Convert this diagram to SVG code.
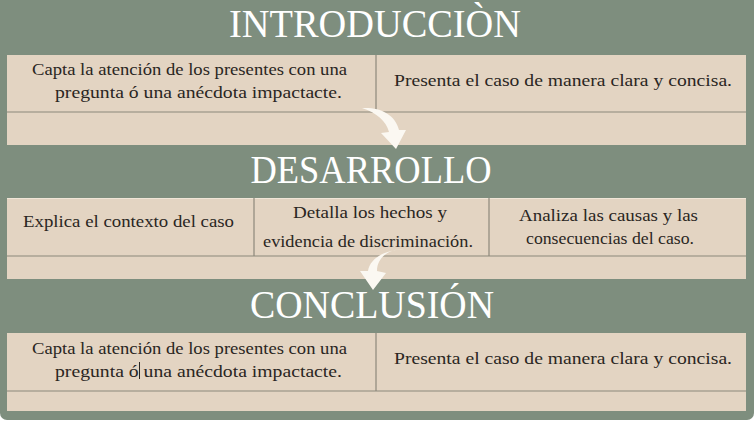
<svg xmlns="http://www.w3.org/2000/svg" width="754" height="421" viewBox="0 0 754 421">
<style>
.title{font-family:"Liberation Serif","DejaVu Serif",serif;fill:#ffffff;font-size:39px;text-anchor:middle}
.txt{font-family:"Liberation Serif","DejaVu Serif",serif;fill:#2a2622;font-size:17.5px}
.box{fill:#e3d4c2}
.div{stroke:#8c877b;stroke-width:1.2;fill:none}
.arrow{fill:#fbf8f2}
</style>
<rect x="0" y="0" width="754" height="421" fill="#ffffff"/>
<rect x="0" y="-10" width="754" height="430" rx="7" fill="#7e8e7e"/>

<g id="introduccion">
<text class="title" x="375" y="37" textLength="292" lengthAdjust="spacingAndGlyphs">INTRODUCCIÒN</text>
<rect class="box" x="7" y="55" width="739" height="90"/>
<line class="div" x1="7" y1="112" x2="746" y2="112"/>
<line class="div" x1="376" y1="55" x2="376" y2="112"/>
<text class="txt" x="32" y="75" textLength="315" lengthAdjust="spacingAndGlyphs">Capta la atención de los presentes con una</text>
<text class="txt" x="55" y="98" textLength="287" lengthAdjust="spacingAndGlyphs">pregunta ó una anécdota impactacte.</text>
<text class="txt" x="394" y="86" textLength="338" lengthAdjust="spacingAndGlyphs">Presenta el caso de manera clara y concisa.</text>
</g>

<g id="desarrollo">
<text class="title" x="371" y="183" textLength="241" lengthAdjust="spacingAndGlyphs">DESARROLLO</text>
<rect class="box" x="7" y="198" width="739" height="81"/>
<line x1="7" y1="198.5" x2="746" y2="198.5" stroke="#f0e6d8" stroke-width="1"/>
<line class="div" x1="7" y1="256" x2="746" y2="256"/>
<line class="div" x1="254" y1="198" x2="254" y2="256"/>
<line class="div" x1="489" y1="198" x2="489" y2="256"/>
<text class="txt" x="23" y="227" textLength="211" lengthAdjust="spacingAndGlyphs">Explica el contexto del caso</text>
<text class="txt" x="293" y="218" textLength="154" lengthAdjust="spacingAndGlyphs">Detalla los hechos y</text>
<text class="txt" x="263" y="247" textLength="210" lengthAdjust="spacingAndGlyphs">evidencia de discriminación.</text>
<text class="txt" x="519" y="221" textLength="179" lengthAdjust="spacingAndGlyphs">Analiza las causas y las</text>
<text class="txt" x="526" y="244" textLength="168" lengthAdjust="spacingAndGlyphs">consecuencias del caso.</text>
</g>

<g id="conclusion">
<text class="title" x="372" y="318" textLength="244" lengthAdjust="spacingAndGlyphs">CONCLUSIÓN</text>
<rect class="box" x="7" y="333" width="739" height="78"/>
<line class="div" x1="7" y1="391" x2="746" y2="391"/>
<line class="div" x1="376" y1="333" x2="376" y2="391"/>
<text class="txt" x="32" y="354" textLength="315" lengthAdjust="spacingAndGlyphs">Capta la atención de los presentes con una</text>
<text class="txt" x="55" y="377" textLength="287" lengthAdjust="spacingAndGlyphs">pregunta ó una anécdota impactacte.</text>
<line x1="139.5" y1="362" x2="139.5" y2="379" stroke="#2a2622" stroke-width="1"/>
<text class="txt" x="394" y="364" textLength="338" lengthAdjust="spacingAndGlyphs">Presenta el caso de manera clara y concisa.</text>
</g>

<g id="connectors">
<path class="arrow" d="M362,108 C380,107 395,114 399,130 L406,130 L396,149 L381,133 L389,132 C386,121 377,113 362,108 Z"/>
<path class="arrow" d="M404,249 C388,249 377,258 377,271 L386,273 L373,290 L360,271 L368,271 C370,258 385,250 404,249 Z"/>
</g>
</svg>
